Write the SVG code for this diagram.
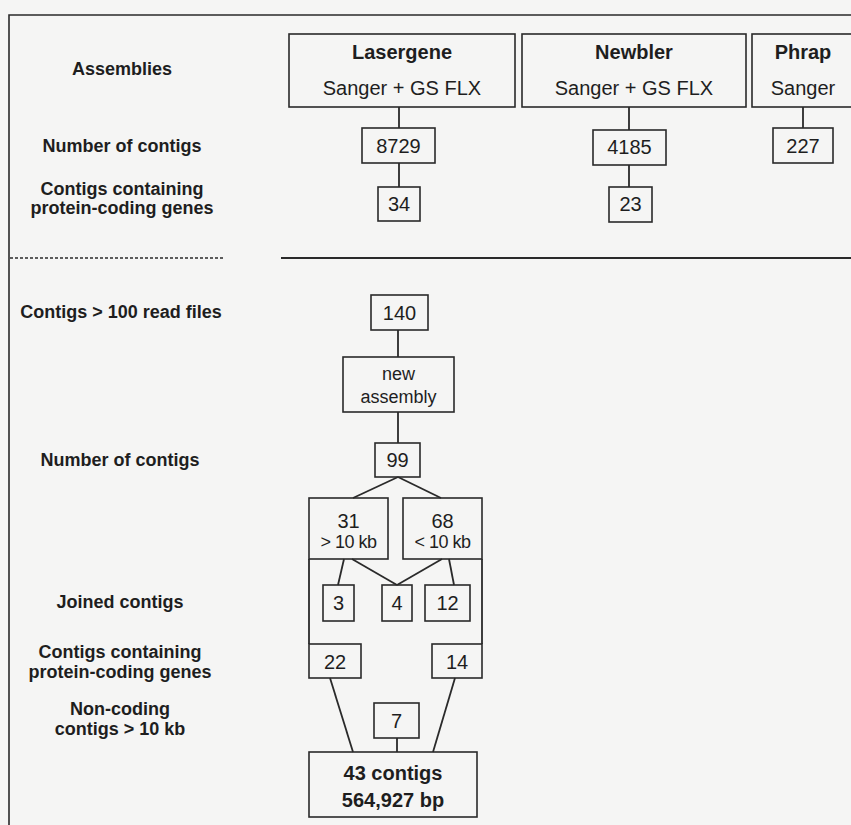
<svg xmlns="http://www.w3.org/2000/svg" width="851" height="825" viewBox="0 0 851 825">
<style>
.bg{fill:#f5f5f4}
.box{fill:none;stroke:#2a2a2a;stroke-width:1.6}
.ln{fill:none;stroke:#2a2a2a;stroke-width:1.8}
.lab{font-family:"Liberation Sans",Arial,sans-serif;font-size:18px;font-weight:bold;fill:#1e1e1e;text-anchor:middle}
.t{font-family:"Liberation Sans",Arial,sans-serif;font-size:20px;fill:#1e1e1e;text-anchor:middle}
.tb{font-family:"Liberation Sans",Arial,sans-serif;font-size:20px;font-weight:bold;fill:#1e1e1e;text-anchor:middle}
.ts{font-family:"Liberation Sans",Arial,sans-serif;font-size:18px;fill:#1e1e1e;text-anchor:middle}
</style>
<rect class="bg" x="0" y="0" width="851" height="825"/>
<g id="frame">
<path class="box" d="M9,825 V15 H851"/>
<line x1="10" y1="258" x2="223" y2="258" stroke="#2a2a2a" stroke-width="1.6" stroke-dasharray="3,2"/>
<line x1="281" y1="258" x2="851" y2="258" stroke="#2a2a2a" stroke-width="2"/>
</g>
<g id="labels">
<text class="lab" x="122" y="75">Assemblies</text>
<text class="lab" x="122" y="152">Number of contigs</text>
<text class="lab" x="122" y="195">Contigs containing</text>
<text class="lab" x="122" y="214">protein-coding genes</text>
<text class="lab" x="121" y="318">Contigs &gt; 100 read files</text>
<text class="lab" x="120" y="466">Number of contigs</text>
<text class="lab" x="120" y="608">Joined contigs</text>
<text class="lab" x="120" y="658">Contigs containing</text>
<text class="lab" x="120" y="678">protein-coding genes</text>
<text class="lab" x="120" y="715">Non-coding</text>
<text class="lab" x="120" y="735">contigs &gt; 10 kb</text>
</g>
<g id="connectors">
<line class="ln" x1="399" y1="107" x2="399" y2="128"/>
<line class="ln" x1="399" y1="163" x2="399" y2="187"/>
<line class="ln" x1="629" y1="107" x2="629" y2="130"/>
<line class="ln" x1="629" y1="165" x2="629" y2="187"/>
<line class="ln" x1="803" y1="107" x2="803" y2="128"/>
<line class="ln" x1="398" y1="330" x2="398" y2="357"/>
<line class="ln" x1="398" y1="412" x2="398" y2="443"/>
<line class="ln" x1="398" y1="477" x2="353" y2="498"/>
<line class="ln" x1="398" y1="477" x2="441" y2="498"/>
<line class="ln" x1="344" y1="559" x2="338" y2="585"/>
<line class="ln" x1="352" y1="559" x2="397" y2="585"/>
<line class="ln" x1="442" y1="559" x2="397" y2="585"/>
<line class="ln" x1="449" y1="559" x2="454" y2="585"/>
<line class="ln" x1="309" y1="559" x2="309" y2="644"/>
<line class="ln" x1="482" y1="559" x2="482" y2="644"/>
<line class="ln" x1="330" y1="678" x2="353" y2="752"/>
<line class="ln" x1="455" y1="678" x2="433" y2="752"/>
<line class="ln" x1="397" y1="738" x2="397" y2="752"/>
</g>
<g id="lasergene">
<rect class="box" x="289" y="34" width="226" height="73"/>
<text class="tb" x="402" y="59">Lasergene</text>
<text class="t" x="402" y="95">Sanger + GS FLX</text>
</g>
<g id="newbler">
<rect class="box" x="522" y="34" width="224" height="73"/>
<text class="tb" x="634" y="59">Newbler</text>
<text class="t" x="634" y="95">Sanger + GS FLX</text>
</g>
<g id="phrap">
<rect class="box" x="752" y="34" width="106" height="73"/>
<text class="tb" x="803" y="59">Phrap</text>
<text class="t" x="803" y="95">Sanger</text>
</g>
<g id="n8729"><rect class="box" x="362" y="128" width="73" height="35"/><text class="t" x="398.5" y="153">8729</text></g>
<g id="n34"><rect class="box" x="378" y="187" width="42" height="34"/><text class="t" x="399" y="211">34</text></g>
<g id="n4185"><rect class="box" x="593" y="130" width="73" height="35"/><text class="t" x="629.5" y="154">4185</text></g>
<g id="n23"><rect class="box" x="609" y="187" width="43" height="35"/><text class="t" x="630.5" y="211">23</text></g>
<g id="n227"><rect class="box" x="773" y="128" width="60" height="35"/><text class="t" x="803" y="153">227</text></g>
<g id="n140"><rect class="box" x="371" y="295" width="57" height="35"/><text class="t" x="399.5" y="320">140</text></g>
<g id="newassembly"><rect class="box" x="343" y="357" width="111" height="55"/><text class="ts" x="398.5" y="380">new</text><text class="ts" x="398.5" y="403">assembly</text></g>
<g id="n99"><rect class="box" x="375" y="443" width="45" height="34"/><text class="t" x="397.5" y="467">99</text></g>
<g id="n31"><rect class="box" x="309" y="498" width="79" height="61"/><text class="t" x="348.5" y="528">31</text><text class="ts" x="348.5" y="548" letter-spacing="-0.5">&gt; 10 kb</text></g>
<g id="n68"><rect class="box" x="403" y="498" width="79" height="61"/><text class="t" x="442.5" y="528">68</text><text class="ts" x="442.5" y="548" letter-spacing="-0.5">&lt; 10 kb</text></g>
<g id="n3"><rect class="box" x="323" y="585" width="31" height="36"/><text class="t" x="338.5" y="610">3</text></g>
<g id="n4"><rect class="box" x="382" y="585" width="30" height="36"/><text class="t" x="397" y="610">4</text></g>
<g id="n12"><rect class="box" x="425" y="585" width="45" height="36"/><text class="t" x="447.5" y="610">12</text></g>
<g id="n22"><rect class="box" x="309" y="644" width="52" height="34"/><text class="t" x="335" y="669">22</text></g>
<g id="n14"><rect class="box" x="432" y="644" width="50" height="34"/><text class="t" x="457" y="669">14</text></g>
<g id="n7"><rect class="box" x="374" y="703" width="45" height="35"/><text class="t" x="396.5" y="728">7</text></g>
<g id="total"><rect class="box" x="309" y="752" width="168" height="65"/><text class="tb" x="393" y="780">43 contigs</text><text class="tb" x="393" y="807">564,927 bp</text></g>
</svg>
